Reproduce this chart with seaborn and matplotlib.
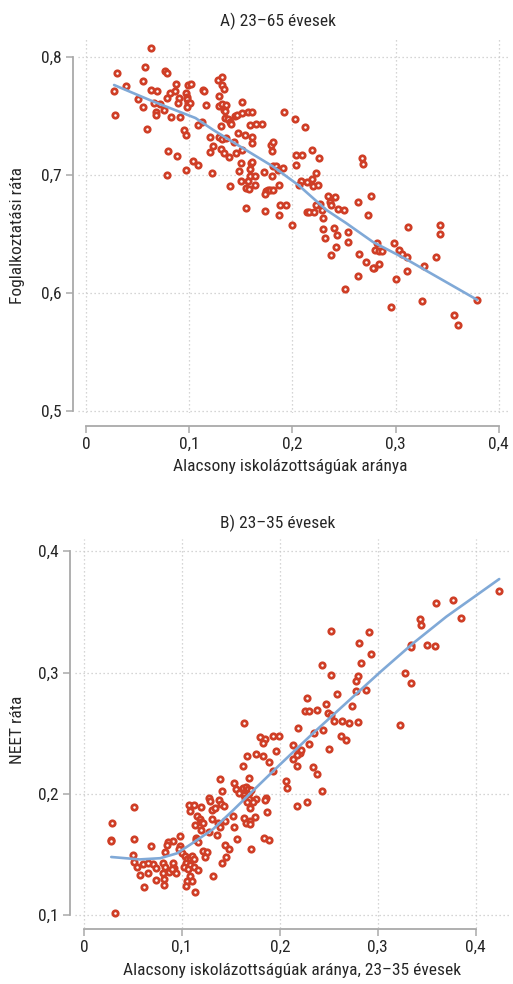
import matplotlib
matplotlib.use("Agg")
import matplotlib.pyplot as plt
import seaborn as sns
import pandas as pd
from matplotlib import font_manager as fm
from matplotlib.ticker import FuncFormatter, FixedLocator

# ---------------- data ----------------
title_a = "A) 23–65 évesek"
title_b = "B) 23–35 évesek"
xlabel_a = "Alacsony iskolázottságúak aránya"
xlabel_b = "Alacsony iskolázottságúak aránya, 23–35 évesek"
ylabel_a = "Foglalkoztatási ráta"
ylabel_b = "NEET ráta"

xticks = [0, 0.1, 0.2, 0.3, 0.4]
yticks_a = [0.5, 0.6, 0.7, 0.8]
yticks_b = [0.1, 0.2, 0.3, 0.4]

a_x = [0.063, 0.030, 0.057, 0.076, 0.078, 0.039, 0.027, 0.055, 0.063, 0.069,
       0.087, 0.099, 0.102, 0.081, 0.086, 0.078, 0.090, 0.089, 0.097, 0.098,
       0.098, 0.099, 0.101, 0.113, 0.114, 0.128, 0.132, 0.132, 0.134, 0.050,
       0.066, 0.072, 0.055, 0.068, 0.068, 0.075, 0.028, 0.082, 0.091, 0.098,
       0.116, 0.129, 0.129, 0.132, 0.136, 0.134, 0.135, 0.151, 0.135, 0.137,
       0.139, 0.140, 0.144, 0.146, 0.151, 0.157, 0.161, 0.112, 0.108, 0.059,
       0.095, 0.097, 0.131, 0.120, 0.129, 0.132, 0.136, 0.192, 0.123, 0.120,
       0.131, 0.134, 0.138, 0.079, 0.088, 0.104, 0.108, 0.097, 0.078, 0.122,
       0.139, 0.150, 0.159, 0.165, 0.170, 0.202, 0.212, 0.147, 0.154, 0.161,
       0.161, 0.143, 0.179, 0.181, 0.180, 0.145, 0.151, 0.203, 0.209, 0.219,
       0.226, 0.267, 0.268, 0.203, 0.150, 0.160, 0.161, 0.159, 0.159, 0.164,
       0.181, 0.184, 0.186, 0.191, 0.172, 0.180, 0.223, 0.148, 0.157, 0.155,
       0.158, 0.164, 0.208, 0.214, 0.219, 0.220, 0.225, 0.206, 0.174, 0.176,
       0.178, 0.181, 0.173, 0.187, 0.234, 0.241, 0.236, 0.237, 0.227, 0.223,
       0.264, 0.276, 0.155, 0.188, 0.194, 0.173, 0.187, 0.214, 0.216, 0.221,
       0.229, 0.244, 0.250, 0.230, 0.273, 0.200, 0.230, 0.240, 0.243, 0.232,
       0.254, 0.254, 0.312, 0.343, 0.343, 0.242, 0.237, 0.265, 0.282, 0.280,
       0.284, 0.287, 0.298, 0.303, 0.306, 0.311, 0.339, 0.271, 0.284, 0.279,
       0.278, 0.328, 0.311, 0.264, 0.300, 0.251, 0.379, 0.326, 0.296, 0.357,
       0.361]
a_y = [0.807, 0.786, 0.791, 0.788, 0.786, 0.775, 0.771, 0.779, 0.772, 0.771,
       0.777, 0.776, 0.777, 0.769, 0.771, 0.765, 0.765, 0.761, 0.769, 0.766,
       0.764, 0.761, 0.761, 0.772, 0.771, 0.780, 0.783, 0.776, 0.773, 0.764,
       0.761, 0.760, 0.757, 0.753, 0.751, 0.755, 0.751, 0.749, 0.749, 0.757,
       0.759, 0.767, 0.758, 0.760, 0.759, 0.755, 0.754, 0.762, 0.748, 0.747,
       0.745, 0.743, 0.750, 0.751, 0.752, 0.753, 0.753, 0.745, 0.742, 0.739,
       0.738, 0.734, 0.741, 0.732, 0.732, 0.730, 0.731, 0.753, 0.724, 0.719,
       0.722, 0.718, 0.715, 0.720, 0.716, 0.712, 0.708, 0.704, 0.700, 0.701,
       0.690, 0.695, 0.742, 0.743, 0.743, 0.747, 0.740, 0.735, 0.734, 0.732,
       0.727, 0.728, 0.725, 0.728, 0.720, 0.718, 0.721, 0.717, 0.717, 0.721,
       0.714, 0.714, 0.709, 0.708, 0.710, 0.710, 0.711, 0.705, 0.699, 0.699,
       0.707, 0.707, 0.704, 0.706, 0.702, 0.699, 0.701, 0.703, 0.695, 0.689,
       0.688, 0.691, 0.695, 0.694, 0.696, 0.690, 0.691, 0.691, 0.686, 0.687,
       0.687, 0.687, 0.684, 0.691, 0.682, 0.681, 0.677, 0.674, 0.675, 0.674,
       0.677, 0.682, 0.672, 0.674, 0.674, 0.669, 0.666, 0.668, 0.668, 0.668,
       0.670, 0.671, 0.670, 0.663, 0.666, 0.657, 0.654, 0.655, 0.649, 0.646,
       0.651, 0.643, 0.656, 0.657, 0.650, 0.639, 0.632, 0.633, 0.642, 0.636,
       0.635, 0.635, 0.642, 0.636, 0.633, 0.630, 0.630, 0.626, 0.624, 0.621,
       0.621, 0.623, 0.618, 0.614, 0.612, 0.603, 0.594, 0.593, 0.588, 0.581,
       0.573]
a_fit_x = [0.027, 0.065, 0.106, 0.123, 0.149, 0.181, 0.206, 0.233, 0.252,
           0.278, 0.311, 0.333, 0.379]
a_fit_y = [0.776, 0.762, 0.748, 0.738, 0.724, 0.707, 0.691, 0.670, 0.659,
           0.643, 0.628, 0.617, 0.594]

b_x = [0.424, 0.359, 0.377, 0.385, 0.343, 0.344, 0.334, 0.334, 0.350, 0.358,
       0.252, 0.291, 0.281, 0.293, 0.283, 0.243, 0.252, 0.280, 0.278, 0.328,
       0.334, 0.278, 0.288, 0.228, 0.258, 0.247, 0.274, 0.226, 0.230, 0.238,
       0.249, 0.252, 0.255, 0.264, 0.271, 0.280, 0.323, 0.219, 0.235, 0.244,
       0.262, 0.268, 0.214, 0.230, 0.250, 0.219, 0.221, 0.218, 0.222, 0.213,
       0.218, 0.234, 0.164, 0.180, 0.185, 0.183, 0.193, 0.199, 0.196, 0.167,
       0.176, 0.183, 0.189, 0.162, 0.193, 0.238, 0.206, 0.207, 0.243, 0.139,
       0.153, 0.155, 0.158, 0.162, 0.166, 0.168, 0.169, 0.171, 0.163, 0.165,
       0.169, 0.167, 0.169, 0.141, 0.128, 0.129, 0.138, 0.140, 0.143, 0.107,
       0.112, 0.108, 0.120, 0.131, 0.134, 0.176, 0.186, 0.185, 0.173, 0.170,
       0.187, 0.218, 0.228, 0.051, 0.029, 0.116, 0.119, 0.120, 0.122, 0.131,
       0.144, 0.152, 0.163, 0.166, 0.170, 0.175, 0.170, 0.113, 0.137, 0.139,
       0.153, 0.120, 0.128, 0.136, 0.098, 0.114, 0.115, 0.156, 0.184, 0.189,
       0.117, 0.091, 0.086, 0.085, 0.069, 0.098, 0.097, 0.122, 0.126, 0.124,
       0.144, 0.148, 0.171, 0.083, 0.100, 0.103, 0.105, 0.108, 0.110, 0.112,
       0.104, 0.108, 0.102, 0.106, 0.112, 0.145, 0.141, 0.071, 0.074, 0.081,
       0.083, 0.091, 0.092, 0.117, 0.108, 0.105, 0.087, 0.081, 0.132, 0.074,
       0.082, 0.082, 0.104, 0.110, 0.028, 0.028, 0.051, 0.050, 0.051, 0.054,
       0.060, 0.066, 0.065, 0.057, 0.061, 0.113, 0.032, 0.094, 0.090]
b_y = [0.367, 0.357, 0.360, 0.345, 0.344, 0.339, 0.323, 0.321, 0.323, 0.322,
       0.334, 0.333, 0.324, 0.315, 0.308, 0.306, 0.298, 0.297, 0.293, 0.300,
       0.291, 0.285, 0.286, 0.279, 0.282, 0.274, 0.272, 0.268, 0.268, 0.269,
       0.267, 0.265, 0.260, 0.260, 0.258, 0.259, 0.257, 0.254, 0.250, 0.253,
       0.248, 0.244, 0.240, 0.241, 0.237, 0.235, 0.234, 0.232, 0.236, 0.229,
       0.223, 0.222, 0.258, 0.247, 0.245, 0.242, 0.248, 0.248, 0.235, 0.231,
       0.233, 0.231, 0.226, 0.223, 0.219, 0.216, 0.211, 0.205, 0.202, 0.212,
       0.209, 0.204, 0.201, 0.205, 0.206, 0.204, 0.201, 0.203, 0.199, 0.197,
       0.196, 0.193, 0.213, 0.202, 0.197, 0.194, 0.195, 0.192, 0.190, 0.191,
       0.191, 0.186, 0.189, 0.187, 0.188, 0.196, 0.197, 0.195, 0.193, 0.188,
       0.185, 0.190, 0.193, 0.189, 0.176, 0.182, 0.179, 0.177, 0.176, 0.179,
       0.178, 0.182, 0.180, 0.176, 0.178, 0.181, 0.175, 0.174, 0.176, 0.173,
       0.173, 0.170, 0.169, 0.166, 0.165, 0.164, 0.162, 0.163, 0.164, 0.162,
       0.160, 0.161, 0.160, 0.158, 0.157, 0.157, 0.155, 0.153, 0.152, 0.148,
       0.158, 0.155, 0.155, 0.152, 0.151, 0.149, 0.146, 0.147, 0.149, 0.146,
       0.143, 0.141, 0.140, 0.138, 0.140, 0.148, 0.143, 0.142, 0.139, 0.143,
       0.140, 0.143, 0.139, 0.137, 0.132, 0.128, 0.136, 0.135, 0.132, 0.129,
       0.130, 0.125, 0.124, 0.128, 0.162, 0.161, 0.163, 0.150, 0.144, 0.140,
       0.142, 0.143, 0.135, 0.133, 0.123, 0.119, 0.102, 0.135, 0.138]
b_fit_x = [0.028, 0.057, 0.078, 0.095, 0.112, 0.132, 0.153, 0.177, 0.200,
           0.234, 0.268, 0.302, 0.336, 0.370, 0.424]
b_fit_y = [0.148, 0.146, 0.147, 0.151, 0.160, 0.171, 0.187, 0.206, 0.224,
           0.250, 0.275, 0.300, 0.324, 0.346, 0.377]

# ---------------- style ----------------
sns.set_theme(style="white")
names = {f.name for f in fm.fontManager.ttflist}
family = "DejaVu Sans"
for cand in ["Liberation Sans Narrow", "Roboto Condensed", "Open Sans Condensed",
             "Noto Sans Condensed", "Roboto"]:
    if cand in names:
        family = cand
        break
plt.rcParams["font.family"] = [family, "DejaVu Sans"]

RED = "#cf3e26"
BLUE = "#80a9d7"
SPINE = "#a9a9a9"
TEXT = "#262626"
FS = 12.5


def fmt(v, _):
    if abs(v) < 1e-9:
        return "0"
    return f"{v:.1f}".replace(".", ",")


fig = plt.figure(figsize=(5.13, 9.84), dpi=100)
W, H = 513, 984


def add_axes(l, t, r, b):
    return fig.add_axes([l / W, 1 - b / H, (r - l) / W, (b - t) / H])


ax1 = add_axes(78, 39, 509, 413)
ax2 = add_axes(75, 539, 510, 928)

panels = [
    (ax1, a_x, a_y, a_fit_x, a_fit_y, yticks_a, (-0.008, 0.41), (0.498, 0.815), 13),
    (ax2, b_x, b_y, b_fit_x, b_fit_y, yticks_b, (-0.009, 0.435), (0.0895, 0.41), 1),
]

for ax, xs, ys, fx, fy, yt, xl, yl, boff in panels:
    df = pd.DataFrame({"x": xs, "y": ys})
    fit = pd.DataFrame({"x": fx, "y": fy})
    ax.grid(True, linestyle=(0, (1, 2.2)), color="#c8c8c8", linewidth=0.9)
    ax.set_axisbelow(True)
    sns.scatterplot(data=df, x="x", y="y", ax=ax, marker="o", s=15,
                    facecolor="white", edgecolor=RED, linewidth=2.0, zorder=3)
    sns.lineplot(data=fit, x="x", y="y", ax=ax, color=BLUE, linewidth=1.9,
                 estimator=None, sort=False, zorder=4)
    ax.set_xlim(*xl)
    ax.set_ylim(*yl)
    ax.xaxis.set_major_locator(FixedLocator(xticks))
    ax.yaxis.set_major_locator(FixedLocator(yt))
    ax.xaxis.set_major_formatter(FuncFormatter(fmt))
    ax.yaxis.set_major_formatter(FuncFormatter(fmt))
    for s in ["top", "right"]:
        ax.spines[s].set_visible(False)
    ax.spines["left"].set_position(("outward", 5 * 0.72))
    ax.spines["bottom"].set_position(("outward", boff * 0.72))
    ax.spines["left"].set_bounds(yt[0], yt[-1])
    ax.spines["bottom"].set_bounds(xticks[0], xticks[-1])
    for s in ["left", "bottom"]:
        ax.spines[s].set_color(SPINE)
        ax.spines[s].set_linewidth(1.3)
    ax.tick_params(axis="both", which="major", direction="out", length=5,
                   width=1.1, color=SPINE, labelsize=FS, labelcolor=TEXT,
                   bottom=True, left=True, pad=3)
    ax.set_xlabel("")
    ax.set_ylabel("")

fig.text(278 / W, 1 - 21 / H, title_a, ha="center", va="center", fontsize=FS, color=TEXT)
fig.text(278 / W, 1 - 523 / H, title_b, ha="center", va="center", fontsize=FS, color=TEXT)
fig.text(290 / W, 1 - 466 / H, xlabel_a, ha="center", va="center", fontsize=FS, color=TEXT)
fig.text(292 / W, 1 - 970 / H, xlabel_b, ha="center", va="center", fontsize=FS, color=TEXT)
fig.text(18 / W, 1 - 236 / H, ylabel_a, ha="center", va="center", rotation=90,
         fontsize=FS, color=TEXT)
fig.text(18 / W, 1 - 730 / H, ylabel_b, ha="center", va="center", rotation=90,
         fontsize=FS, color=TEXT)

fig.savefig("out.png", dpi=100, facecolor="white")
